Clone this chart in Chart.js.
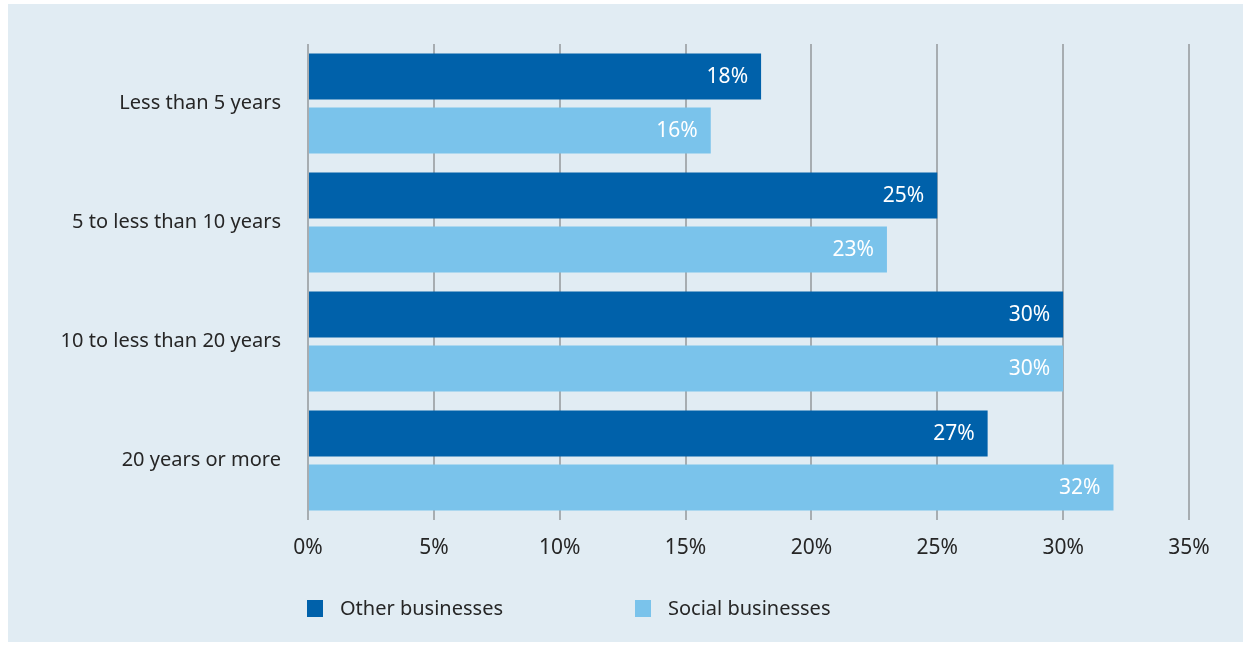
<!DOCTYPE html>
<html>
<head>
<meta charset="utf-8">
<script src="https://cdn.jsdelivr.net/npm/chart.js@4.4.1/dist/chart.umd.min.js"></script>
<style>
    html, body { margin: 0; padding: 0; background: #fff; }
    .panel {
        position: absolute;
        left: 8px; top: 4px;
        width: 1235px; height: 638px;
        background: #e1ecf3;
    }
</style>
</head>
<body>
<div class="panel"><canvas id="ageChart"></canvas></div>
<script>
// data
const categories = ['Less than 5 years', '5 to less than 10 years', '10 to less than 20 years', '20 years or more'];
const otherBusinesses = [18, 25, 30, 27];
const socialBusinesses = [16, 23, 30, 32];
const seriesNames = ['Other businesses', 'Social businesses'];

const FONT = '"Noto Sans", sans-serif';
const TEXT = '#262626';

// white percentage labels at the end of each bar
const barLabels = {
    id: 'barLabels',
    afterDatasetsDraw(chart) {
        const ctx = chart.ctx;
        ctx.save();
        ctx.font = '21px ' + FONT;
        ctx.fillStyle = '#fff';
        ctx.textAlign = 'right';
        ctx.textBaseline = 'middle';
        chart.data.datasets.forEach((ds, i) => {
            chart.getDatasetMeta(i).data.forEach((bar, j) => {
                ctx.fillText(ds.data[j] + '%', bar.x - 13, bar.y + 1);
            });
        });
        ctx.restore();
    }
};

// legend below the axis, left aligned with the plot
const squareLegend = {
    id: 'squareLegend',
    afterDraw(chart) {
        const ctx = chart.ctx;
        const xs = [299, 627];
        const y = 596;
        ctx.save();
        ctx.font = '20px ' + FONT;
        ctx.textBaseline = 'middle';
        chart.data.datasets.forEach((ds, i) => {
            ctx.fillStyle = ds.backgroundColor;
            ctx.fillRect(xs[i], y, 16, 17);
            ctx.fillStyle = TEXT;
            ctx.fillText(ds.label, xs[i] + 33, y + 9);
        });
        ctx.restore();
    }
};

new Chart(document.getElementById('ageChart'), {
    type: 'bar',
    data: {
        labels: categories,
        datasets: [{
            label: seriesNames[0],
            data: otherBusinesses,
            backgroundColor: '#0061aa',
            barPercentage: 0.852,
            categoryPercentage: 0.908
        }, {
            label: seriesNames[1],
            data: socialBusinesses,
            backgroundColor: '#7ac3eb',
            barPercentage: 0.852,
            categoryPercentage: 0.908
        }]
    },
    options: {
        indexAxis: 'y',
        responsive: true,
        maintainAspectRatio: false,
        animation: false,
        layout: { padding: { left: 0, right: 54, top: 40, bottom: 62 } },
        scales: {
            x: {
                min: 0,
                max: 35,
                ticks: {
                    stepSize: 5,
                    padding: 15,
                    color: TEXT,
                    font: { family: FONT, size: 21 },
                    callback: v => v + '%'
                },
                grid: { color: '#a7adb1', lineWidth: 2, drawTicks: false },
                border: { display: false },
                afterFit: s => { s.height = 60; }
            },
            y: {
                ticks: {
                    padding: 27,
                    color: TEXT,
                    font: { family: FONT, size: 20 }
                },
                grid: { display: false, drawTicks: false },
                border: { display: false },
                afterFit: s => { s.width = 300; }
            }
        },
        plugins: {
            legend: { display: false },
            tooltip: { enabled: false }
        }
    },
    plugins: [barLabels, squareLegend]
});
</script>
</body>
</html>
